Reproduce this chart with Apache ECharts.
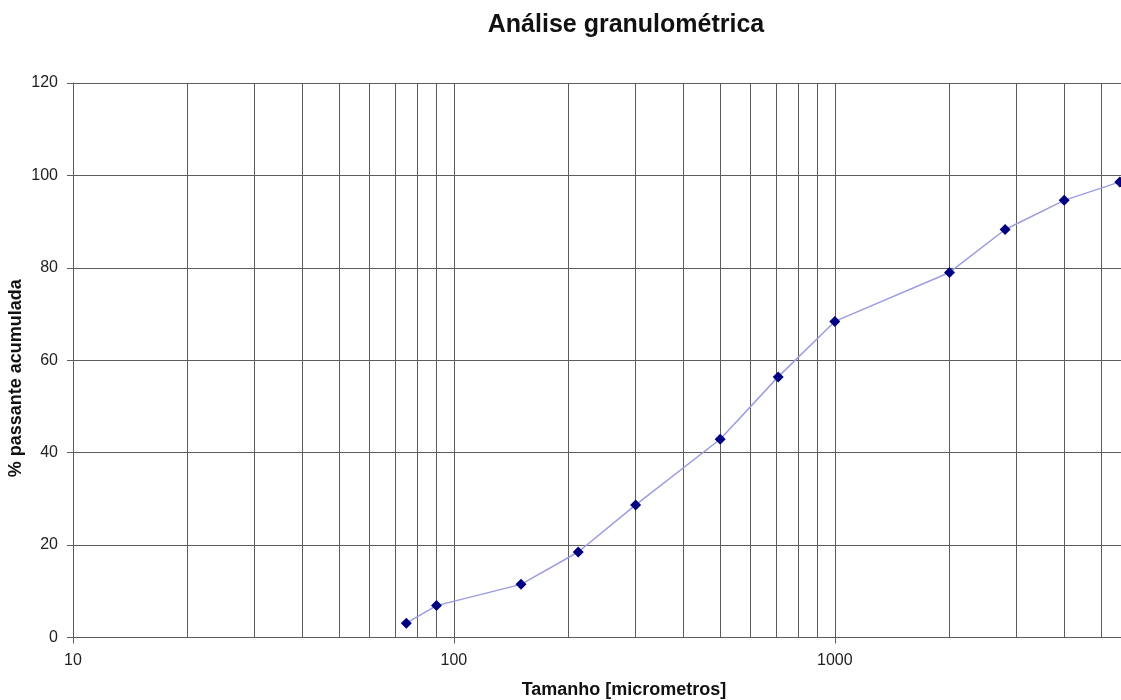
<!DOCTYPE html>
<html>
<head>
<meta charset="utf-8">
<title>Análise granulométrica</title>
<script src="https://cdn.jsdelivr.net/npm/echarts@6/dist/echarts.min.js"></script>
<style>
  html, body { margin: 0; padding: 0; background: #ffffff; }
  #chart { width: 1121px; height: 700px; }
</style>
</head>
<body>
<div id="chart"></div>
<script>
// Sieve openings (micrometres) and cumulative percentage passing
const sieveSizes = [75, 90, 150, 212, 300, 500, 710, 1000, 2000, 2800, 4000, 5600];
const percentPassing = [3.1, 6.9, 11.5, 18.5, 28.7, 42.9, 56.4, 68.4, 79.0, 88.3, 94.6, 98.6];

// Intermediate log-grid values between the decades
const minorGridSizes = [20, 30, 40, 50, 60, 70, 80, 90, 200, 300, 400, 500, 600, 700, 800, 900, 2000, 3000, 4000, 5000];

// Axis ranges and y tick step
const xRange = [10, 5640];
const yRange = [0, 120];
const yStep = 20;

const gridColor = '#5c5c5c';
const textFont = 'Liberation Sans, Arial, Helvetica, sans-serif';

const points = sieveSizes.map((s, i) => [s, percentPassing[i]]);

const chart = echarts.init(document.getElementById('chart'), null, { renderer: 'canvas' });

chart.setOption({
  backgroundColor: '#ffffff',
  animation: false,
  title: {
    text: 'Análise granulométrica',
    left: 621,
    top: 8,
    textAlign: 'center',
    textStyle: {
      fontFamily: textFont,
      fontWeight: 'bold',
      fontSize: 25,
      color: '#111'
    }
  },
  grid: {
    left: 73,
    top: 83,
    right: 0,
    bottom: 62.5,
    containLabel: false,
    outerBoundsMode: 'none'
  },
  xAxis: {
    type: 'log',
    logBase: 10,
    min: xRange[0],
    max: xRange[1],
    name: 'Tamanho [micrometros]',
    nameLocation: 'middle',
    nameGap: 44,
    nameMoveOverlap: false,
    nameTextStyle: {
      fontFamily: textFont,
      fontWeight: 'bold',
      fontSize: 18,
      color: '#111',
      padding: [0, 0, 0, 54]
    },
    axisLine: { show: true, lineStyle: { color: gridColor, width: 1 } },
    axisTick: { show: true, length: 6, lineStyle: { color: gridColor, width: 1 } },
    axisLabel: {
      showMaxLabel: false,
      margin: 15,
      fontFamily: textFont,
      fontSize: 16,
      color: '#222',
      formatter: v => String(Math.round(v))
    },
    splitLine: { show: true, lineStyle: { color: gridColor, width: 1 } }
  },
  yAxis: {
    type: 'value',
    min: yRange[0],
    max: yRange[1],
    interval: yStep,
    name: '% passante acumulada',
    nameLocation: 'middle',
    nameGap: 48,
    nameMoveOverlap: false,
    nameRotate: 90,
    nameTextStyle: {
      fontFamily: textFont,
      fontWeight: 'bold',
      fontSize: 18,
      color: '#111',
      padding: [0, 36, 0, 0]
    },
    axisLine: { show: true, lineStyle: { color: gridColor, width: 1 } },
    axisTick: { show: true, length: 6, lineStyle: { color: gridColor, width: 1 } },
    axisLabel: {
      margin: 15,
      fontFamily: textFont,
      fontSize: 16,
      color: '#222'
    },
    splitLine: { show: true, lineStyle: { color: gridColor, width: 1 } }
  },
  series: [
    {
      type: 'line',
      data: points,
      symbol: 'diamond',
      symbolSize: 11,
      itemStyle: { color: '#000080' },
      lineStyle: { color: '#9c9ce0', width: 1.5 },
      z: 5,
      markLine: {
        silent: true,
        symbol: ['none', 'none'],
        label: { show: false },
        lineStyle: { color: gridColor, width: 1, type: 'solid' },
        emphasis: { disabled: true },
        z: 1,
        data: minorGridSizes.map(v => ({ xAxis: v }))
      }
    }
  ]
});
</script>
</body>
</html>
